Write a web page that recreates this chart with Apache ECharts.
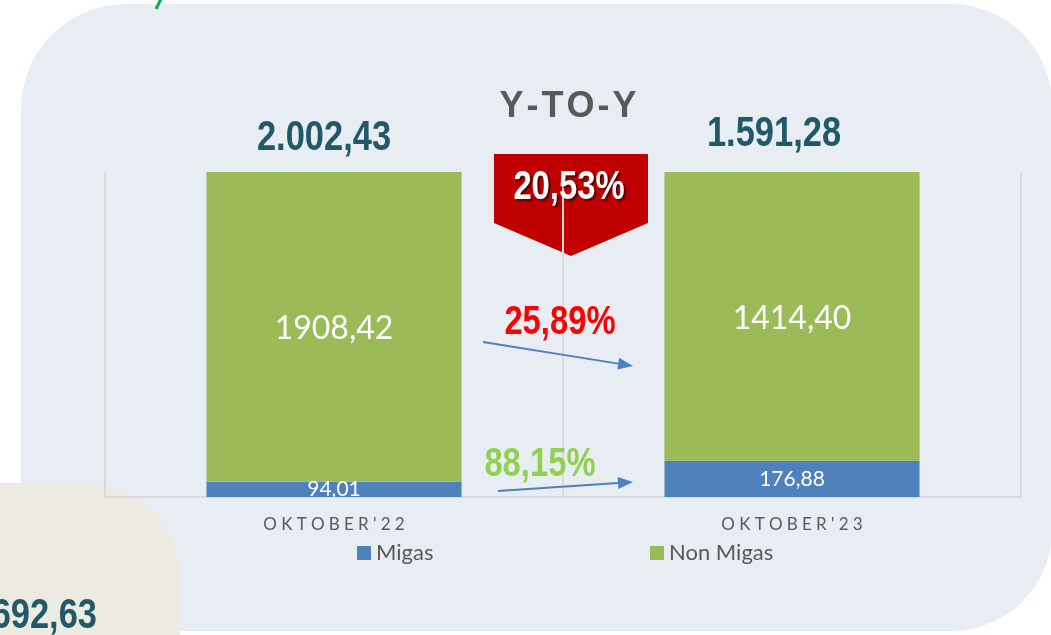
<!DOCTYPE html>
<html>
<head>
<meta charset="utf-8">
<script src="https://cdn.jsdelivr.net/npm/echarts@6/dist/echarts.min.js"></script>
<style>
  html, body { margin: 0; padding: 0; background: #ffffff; }
  #chart { width: 1051px; height: 635px; }
</style>
</head>
<body>
<div id="chart"></div>
<script>
// data
const categories = ["OKTOBER'22", "OKTOBER'23"];
const migas = [94.01, 176.88];
const nonMigas = [1908.42, 1414.40];
const seriesNames = ['Migas', 'Non Migas'];
const colors = ['#4F81BD', '#9BBB59'];

const totals = migas.map((v, i) => v + nonMigas[i]);

// 100% stacked shares
const migasShare = migas.map((v, i) => v / totals[i] * 100);
const nonMigasShare = nonMigas.map((v, i) => v / totals[i] * 100);

const pctChange = (a, b) => Math.abs((b - a) / a * 100);
const totalChange = pctChange(totals[0], totals[1]);
const nonMigasChange = pctChange(nonMigas[0], nonMigas[1]);
const migasChange = pctChange(migas[0], migas[1]);

const comma = v => v.toFixed(2).replace('.', ',');
const fmtID = v => {
  const [a, b] = v.toFixed(2).split('.');
  return a.replace(/\B(?=(\d{3})+(?!\d))/g, '.') + ',' + b;
};
const spaced = (s, sp) => s.split('').join(sp);

// no Arial Narrow here: squeeze Liberation Sans Bold instead
const BODY = "Lato, 'Open Sans', sans-serif";
const SQUEEZE = 0.82;

const narrowText = (x, y, text, fill, size, align, extra) => ({
  type: 'text', z: 60, x, y, scaleX: SQUEEZE,
  style: Object.assign({ x: 0, y: 0, text, fill, align: align || 'center', verticalAlign: 'middle',
    font: "bold " + size + "px 'Liberation Sans', Arial, sans-serif" }, extra || {})
});

const arrow = (x1, y1, x2, y2, color) => {
  const ang = Math.atan2(y2 - y1, x2 - x1);
  const len = 15, half = 6;
  const bx = x2 - len * Math.cos(ang), by = y2 - len * Math.sin(ang);
  const px = -Math.sin(ang) * half, py = Math.cos(ang) * half;
  return [
    { type: 'line', z: 50, shape: { x1, y1, x2: bx, y2: by }, style: { stroke: color, lineWidth: 2 } },
    { type: 'polygon', z: 50, shape: { points: [[x2, y2], [bx + px, by + py], [bx - px, by - py]] }, style: { fill: color } }
  ];
};

const chart = echarts.init(document.getElementById('chart'));

chart.setOption({
  animation: false,
  backgroundColor: '#ffffff',
  grid: { left: 105, right: 30, top: 172, bottom: 138 },
  legend: [
    { data: ['Migas'], left: 352, top: 537, icon: 'rect', itemWidth: 14, itemHeight: 14, itemGap: 6,
      textStyle: { color: '#595959', fontSize: 22, fontFamily: BODY } },
    { data: ['Non Migas'], left: 645, top: 537, icon: 'rect', itemWidth: 14, itemHeight: 14, itemGap: 6,
      textStyle: { color: '#595959', fontSize: 22, fontFamily: BODY } }
  ],
  xAxis: {
    type: 'category',
    data: categories,
    axisLine: { lineStyle: { color: '#D9D9D9', width: 2 } },
    axisTick: { show: false },
    splitLine: { show: true, lineStyle: { color: '#D9D9D9', width: 2 } },
    axisLabel: {
      margin: 19, color: '#595959', fontSize: 17, fontFamily: BODY,
      formatter: s => spaced(s, '\u2005')
    }
  },
  yAxis: { type: 'value', min: 0, max: 100, show: false },
  series: [
    {
      name: seriesNames[0], type: 'bar', stack: 'total', barWidth: '55.7%',
      data: migasShare, itemStyle: { color: colors[0] },
      label: { show: true, position: 'inside', color: '#ffffff', fontSize: 21, fontFamily: BODY,
        formatter: p => comma(migas[p.dataIndex]) }
    },
    {
      name: seriesNames[1], type: 'bar', stack: 'total', barWidth: '55.7%',
      data: nonMigasShare, itemStyle: { color: colors[1] },
      label: { show: true, position: 'inside', offset: [0, 2], color: '#ffffff', fontSize: 32, fontFamily: BODY,
        formatter: p => comma(nonMigas[p.dataIndex]) }
    }
  ]
});

// totals above each column, placed through the chart's own scales
const totalShift = [[-10, -34], [-18, -38]];
const totalLabels = totals.map((t, i) => {
  const [px, py] = chart.convertToPixel({ gridIndex: 0 }, [i, 100]);
  return narrowText(px + totalShift[i][0], py + totalShift[i][1], fmtID(t), '#215968', 42);
});

chart.setOption({
  graphic: [
    // slide panels
    { type: 'rect', z: -20, shape: { x: 21, y: 4, width: 1031, height: 627, r: [105, 101, 101, 60] }, style: { fill: '#E8ECF3' } },
    { type: 'rect', z: -19, shape: { x: -100, y: 483, width: 280, height: 300, r: [0, 95, 0, 0] }, style: { fill: '#EDEBE1' } },
    { type: 'line', z: -19, shape: { x1: 156, y1: 9, x2: 161, y2: -1 }, style: { stroke: '#00B050', lineWidth: 3 } },
    narrowText(97, 616, '1.692,63', '#215968', 42, 'right'),
    // Y-TO-Y badge
    { type: 'text', z: 50, style: { x: 568, y: 107, text: spaced('Y-TO-Y', '\u200A'), fill: '#595959', font: "bold 36px 'Liberation Sans', Arial, sans-serif", align: 'center', verticalAlign: 'middle' } },
    { type: 'polygon', z: -5, shape: { points: [[494, 154], [648, 154], [648, 223], [571, 256], [494, 223]] }, style: { fill: '#C00000' } },
    narrowText(569, 188, comma(totalChange) + '%', '#ffffff', 40, 'center',
      { textShadowColor: 'rgba(0,0,0,0.55)', textShadowOffsetX: 2, textShadowOffsetY: 2, textShadowBlur: 2 }),
    // change annotations
    narrowText(560, 323, comma(nonMigasChange) + '%', '#FF0000', 40),
    narrowText(540, 465, comma(migasChange) + '%', '#92D050', 40),
    ...totalLabels,
    ...arrow(483, 342, 633, 366, '#4F81BD'),
    ...arrow(498, 491, 633, 482, '#4F81BD')
  ]
});
</script>
</body>
</html>
